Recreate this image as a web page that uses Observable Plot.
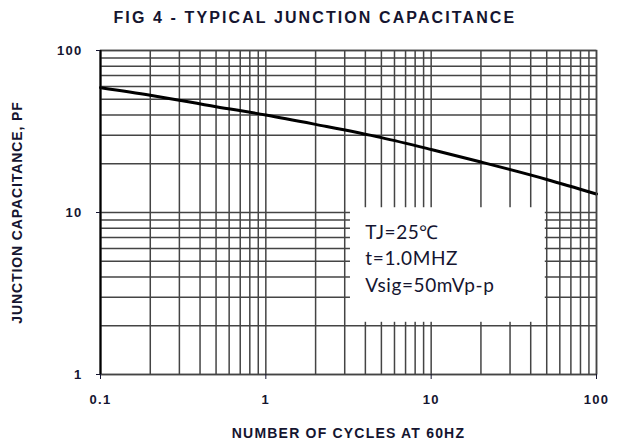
<!DOCTYPE html>
<html>
<head>
<meta charset="utf-8">
<script src="https://cdn.jsdelivr.net/npm/d3@7"></script>
<script src="https://cdn.jsdelivr.net/npm/@observablehq/plot@0.6"></script>
<style>
  body { margin: 0; background: #fff; }
  svg { display: block; }
  g[aria-label="x-axis tick label"], g[aria-label="y-axis tick label"] { font-size: 13px; letter-spacing: 1.3px; }
  g[aria-label="x-axis label"] { font-size: 14px; letter-spacing: 1.2px; }
  g[aria-label="y-axis label"] { font-size: 14px; letter-spacing: 0.9px; }
</style>
</head>
<body>
<div id="chart"></div>
<script>
const titleText = "FIG 4 - TYPICAL JUNCTION CAPACITANCE";

// Curve values
const cycles      = [0.1, 0.2, 0.5, 1, 2, 5, 10, 20, 50, 100];
const capacitance = [59, 53, 45, 40, 35, 29, 24.5, 20.5, 16, 13];

// Tick values
const xTicks = [0.1, 1, 10, 100];
const yTicks = [1, 10, 100];

// Grid lines (1..9 per decade)
const xGrid = [0.1,0.2,0.3,0.4,0.5,0.6,0.7,0.8,0.9,1,2,3,4,5,6,7,8,9,10,20,30,40,50,60,70,80,90,100];
const yGrid = [1,2,3,4,5,6,7,8,9,10,20,30,40,50,60,70,80,90,100];

// Annotation box (data coordinates) and its lines
const noteBox = [{x1: 3.25, x2: 49, y1: 2.1, y2: 10.7}];
const noteLines = ["TJ=25℃", "t=1.0MHZ", "Vsig=50mVp-p"];
const noteY = [7.5, 5.2, 3.54];
const noteX = 4.0;

const curve = cycles.map((c, i) => ({x: c, y: capacitance[i]}));
const notes = noteLines.map((t, i) => ({text: t, x: noteX, y: noteY[i]}));

const axisFont = `"Liberation Sans", Arial, sans-serif`;

const chart = Plot.plot({
  width: 619,
  height: 441,
  marginTop: 50,
  marginBottom: 67,
  marginLeft: 100,
  marginRight: 23,
  style: {fontFamily: axisFont, fontSize: "13px", fontWeight: "bold", color: "#151530", background: "#fff"},
  x: {type: "log", domain: [0.1, 100]},
  y: {type: "log", domain: [1, 100]},
  marks: [
    Plot.ruleX(xGrid, {stroke: "#444", strokeWidth: 1.5}),
    Plot.ruleY(yGrid, {stroke: "#444", strokeWidth: 1.5}),
    Plot.rect(noteBox, {x1: "x1", x2: "x2", y1: "y1", y2: "y2", fill: "#fff"}),
    Plot.text(notes, {x: "x", y: "y", text: "text", textAnchor: "start",
      fontFamily: "Lato, sans-serif", fontSize: 19, fontWeight: "normal", fill: "#151530"}),
    Plot.line(curve, {x: "x", y: "y", stroke: "#000", strokeWidth: 3, curve: "monotone-x"}),
    Plot.frame({stroke: "#444", strokeWidth: 1.5}),
    Plot.ruleX([0.1], {stroke: "#000", strokeWidth: 2}),
    Plot.text([titleText], {frameAnchor: "top-left", textAnchor: "start", lineAnchor: "middle",
      dx: 13, dy: -33, fontSize: 16, fontWeight: "bold", fill: "#151530"}),
    Plot.axisX({ticks: xTicks, tickFormat: d => String(d), tickSize: 5, tickPadding: 15,
      label: "NUMBER OF CYCLES AT 60HZ", labelAnchor: "center", labelOffset: 63, labelArrow: "none"}),
    Plot.axisY({ticks: yTicks, tickFormat: d => String(d), tickSize: 4, tickPadding: 14,
      label: "JUNCTION CAPACITANCE, PF", labelAnchor: "center", labelOffset: 88, labelArrow: "none"})
  ]
});
document.getElementById("chart").appendChild(chart);

// letter spacing for the title and the note lines
d3.select(chart).selectAll("text")
  .filter(function() { return this.textContent === titleText; })
  .style("letter-spacing", "2.1px");
d3.select(chart).selectAll("text")
  .filter(function() { return noteLines.includes(this.textContent); })
  .style("letter-spacing", "0.6px");
</script>
</body>
</html>
